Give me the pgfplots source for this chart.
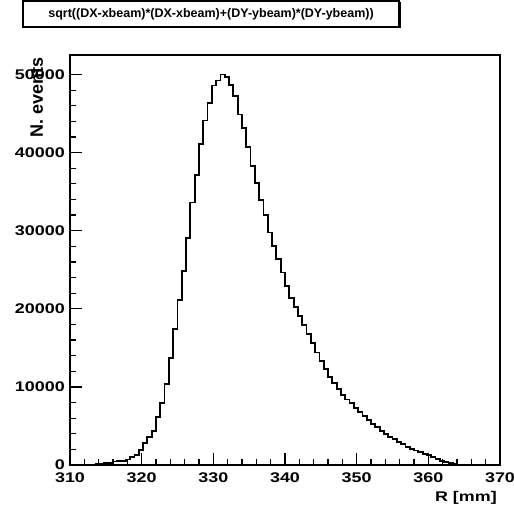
\documentclass[border=0pt]{standalone}
\usepackage{fontspec}
\setmainfont{Liberation Sans}
\newfontfamily\stretchfont[FakeStretch=1.28]{Liberation Sans}
\usepackage{pgfplots}
\pgfplotsset{compat=1.18}
\usepackage{pgfplotstable}
\usetikzlibrary{shadows}
\pgfplotstableread{
x y
313.0 0
313.6 150
314.2 200
314.8 250
315.4 300
316.0 450
316.6 500
317.2 550
317.8 700
318.4 1000
319.0 1300
319.6 1900
320.2 2780
320.8 3550
321.4 4400
322.0 6110
322.6 7990
323.2 10380
323.8 13680
324.4 17400
325.0 21150
325.6 24870
326.2 29100
326.8 33600
327.4 37180
328.0 41150
328.6 44100
329.2 46400
329.8 48600
330.4 49230
331.0 50000
331.6 49700
332.2 48700
332.8 47200
333.4 44870
334.0 43160
334.6 40700
335.2 38240
335.8 36100
336.4 33900
337.0 32050
337.6 29780
338.2 28080
338.8 26370
339.4 24660
340.0 22950
340.6 21370
341.2 20220
341.8 19100
342.4 17900
343.0 16800
343.6 15600
344.2 14400
344.8 13300
345.4 12300
346.0 11300
346.6 10500
347.2 9700
347.8 9000
348.4 8400
349.0 7900
349.6 7300
350.2 6800
350.8 6300
351.4 5800
352.0 5300
352.6 4900
353.2 4400
353.8 4000
354.4 3600
355.0 3300
355.6 2950
356.2 2650
356.8 2350
357.4 2100
358.0 1850
358.6 1650
359.2 1450
359.8 1250
360.4 1000
361.0 750
361.6 550
362.2 400
362.8 250
363.4 100
364.0 0
}\histdata
\begin{document}
\begin{tikzpicture}
\begin{axis}[
  scale only axis, width=430pt, height=410pt,
  xmin=310, xmax=370, ymin=0, ymax=52500,
  axis line style={line width=1.4pt, black},
  xtick={310,320,...,370}, ytick={0,10000,...,50000},
  minor x tick num=4, minor y tick num=4,
  tick align=inside, major tick length=12pt, minor tick length=6pt,
  xtick pos=left, ytick pos=left,
  tick style={line width=1.2pt, black},
  scaled y ticks=false,
  /pgf/number format/1000 sep={},
  /pgf/number format/assume math mode=true,
  ticklabel style={font=\stretchfont\bfseries\fontsize{14}{14}\selectfont},
  xticklabel style={anchor=north, inner sep=0pt, yshift=-8pt},
  yticklabel style={anchor=east, inner sep=0pt, xshift=-5pt},
  xlabel={R [mm]},
  xlabel style={at={(axis description cs:0.993,-0.0895)}, anchor=base east, inner sep=0pt,
    font=\stretchfont\bfseries\fontsize{14}{14}\selectfont},
  ylabel={N. events},
  ylabel style={at={(axis description cs:-0.063,0.995)}, anchor=base east, inner sep=0pt,
    font=\bfseries\fontsize{18}{18}\selectfont},
  title={sqrt((DX-xbeam)*(DX-xbeam)+(DY-ybeam)*(DY-ybeam))},
  title style={at={(axis description cs:0.328,1.0854)}, anchor=center, draw, fill=white,
    line width=1.2pt, minimum width=376pt, minimum height=26pt, inner sep=0pt,
    font=\bfseries\fontsize{12.5}{12.5}\selectfont,
    drop shadow={shadow xshift=1.5pt, shadow yshift=-1.5pt, opacity=1, fill=black}},
]
\addplot[const plot mark left, line width=1.8pt, black, mark=none] table[x=x, y=y] {\histdata};
\end{axis}
\pgfresetboundingbox
\useasboundingbox (-70pt,-42pt) rectangle (444pt,465pt);
\end{tikzpicture}
\end{document}
